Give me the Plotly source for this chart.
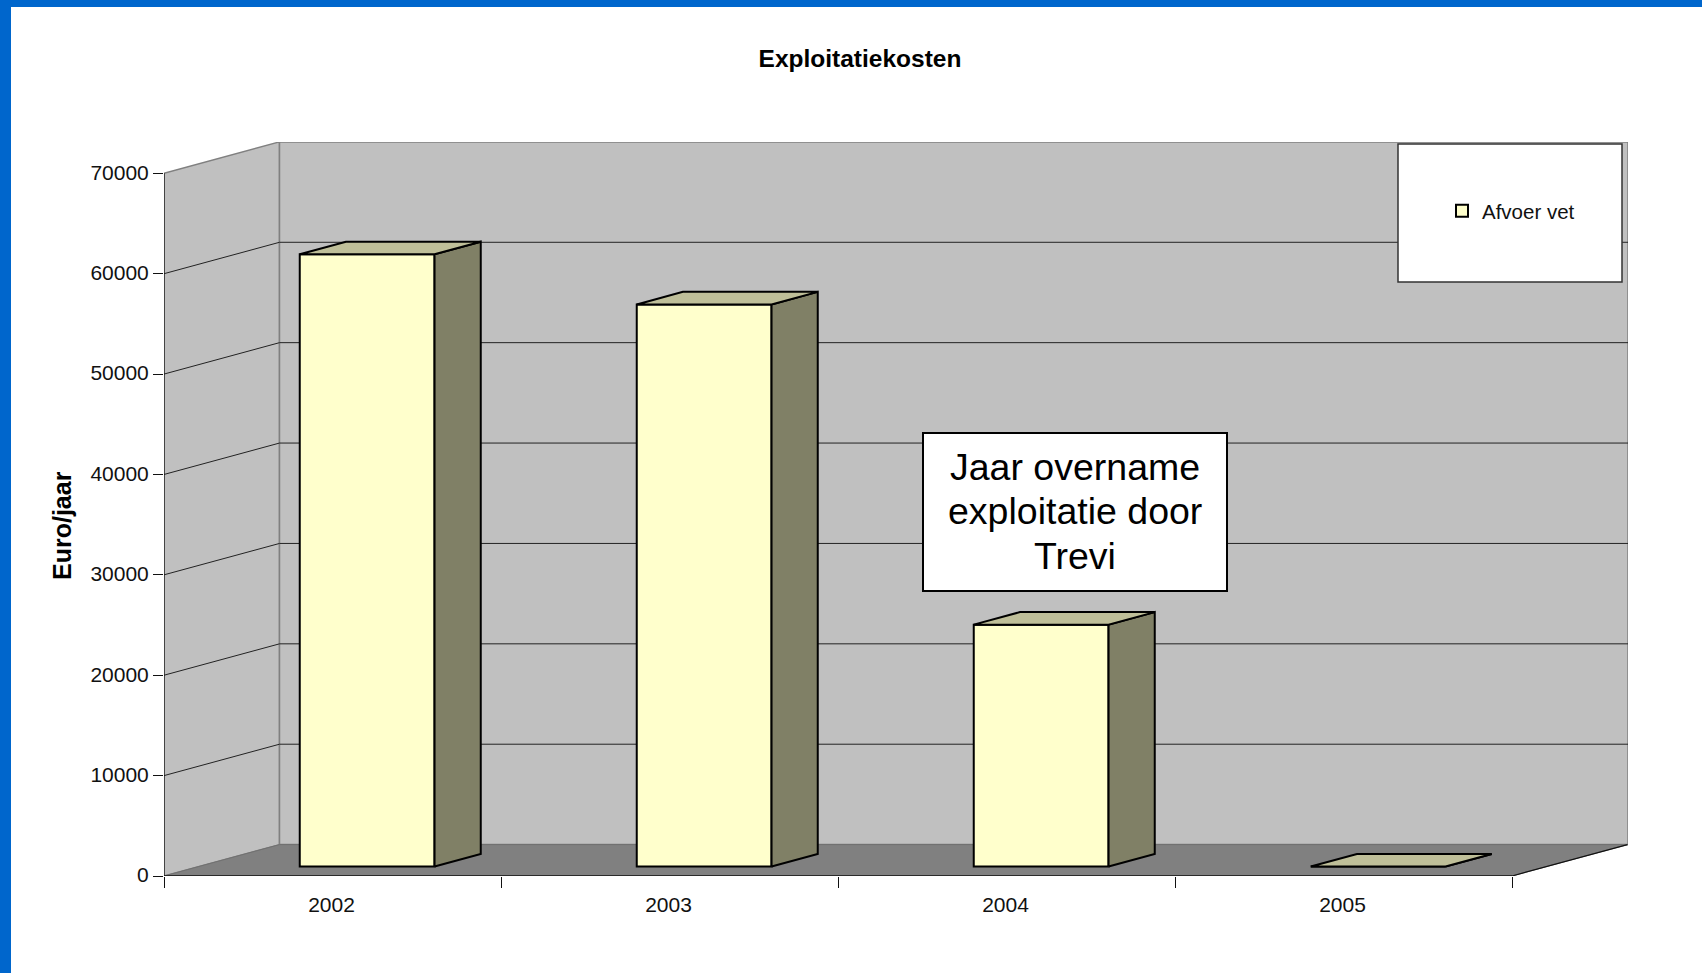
import plotly.graph_objects as go

# data
jaren = ["2002", "2003", "2004", "2005"]
kosten = [61000, 56000, 24100, 0]
y_ticks = [0, 10000, 20000, 30000, 40000, 50000, 60000, 70000]
note_lines = ["Jaar overname", "exploitatie door", "Trevi"]

W, H = 1702, 973
# plot area in pixels (front left corner of the floor up to back right corner)
L, R, T, B = 164, 1628, 142, 876
CAT_W = 337.0          # pixels per category
PER_PX = 70000 / 702.7  # euro per pixel
DX = 115.5 / CAT_W     # depth of the 3d box in x units
DY = 31.4 * PER_PX     # depth of the 3d box in y units
D0, D1 = 0.3, 0.7      # bar position in the depth
BAR = 0.4
YMAX = 70000
n = len(jaren)


def px(x):
    return (x - L) / (R - L)


def py(y):
    return (B - y) / (B - T)


def poly(pts):
    return "M" + " L".join(f"{x},{y}" for x, y in pts) + " Z"


shapes = []


def data_shape(pts, fill=None, color="#808080", width=1.5, layer="below"):
    s = dict(type="path", path=poly(pts), xref="x", yref="y", layer=layer,
             line=dict(color=color, width=width))
    if fill:
        s["fillcolor"] = fill
    shapes.append(s)


def data_line(p0, p1, color="#222222", width=1, layer="below"):
    shapes.append(dict(type="line", xref="x", yref="y", layer=layer,
                       x0=p0[0], y0=p0[1], x1=p1[0], y1=p1[1],
                       line=dict(color=color, width=width)))


xmax = (R - L) / CAT_W
ymax = (B - T) * PER_PX

# walls and floor
data_shape([(0, 0), (DX, DY), (DX, YMAX + DY), (0, YMAX)], fill="#C0C0C0")
data_shape([(DX, DY), (xmax, DY), (xmax, YMAX + DY), (DX, YMAX + DY)], fill="#C0C0C0")
data_shape([(0, 0), (n, 0), (n + DX, DY), (DX, DY)], fill="#808080", color="#707070", width=1)

# gridlines
for v in y_ticks[1:-1]:
    data_line((0, v), (DX, v + DY))
    data_line((DX, v + DY), (xmax, v + DY))

# axis lines
data_line((0, 0), (0, YMAX), color="#111111", width=1.2)
data_line((0, 0), (n, 0), color="#111111", width=1.5, layer="above")
data_line((n, 0), (n + DX, DY), color="#111111", width=1.2, layer="above")

fig = go.Figure()

# front of the bars
centers = [i + 0.5 + D0 * DX for i in range(n)]
fig.add_trace(go.Bar(
    x=centers, y=kosten, base=D0 * DY, width=BAR, name="Afvoer vet",
    marker=dict(color="#FFFFCC", line=dict(color="black", width=2)),
))

# top and side of the bars
for i, v in enumerate(kosten):
    xl = i + 0.5 - BAR / 2
    xr = i + 0.5 + BAR / 2
    top_x = [xl + D0 * DX, xr + D0 * DX, xr + D1 * DX, xl + D1 * DX, xl + D0 * DX]
    top_y = [v + D0 * DY, v + D0 * DY, v + D1 * DY, v + D1 * DY, v + D0 * DY]
    side_x = [xr + D0 * DX, xr + D1 * DX, xr + D1 * DX, xr + D0 * DX, xr + D0 * DX]
    side_y = [D0 * DY, D1 * DY, v + D1 * DY, v + D0 * DY, D0 * DY]
    for xs, ys, c in [(side_x, side_y, "#808066"), (top_x, top_y, "#BFBF99")]:
        fig.add_trace(go.Scatter(
            x=xs, y=ys, mode="lines", fill="toself", fillcolor=c,
            line=dict(color="black", width=2), showlegend=False, hoverinfo="skip",
        ))

# legend box
shapes.append(dict(type="rect", xref="paper", yref="paper", layer="above",
                   x0=px(1398), x1=px(1622), y0=py(282), y1=py(144),
                   fillcolor="white", line=dict(color="#333333", width=1.5)))
# note box
shapes.append(dict(type="rect", xref="paper", yref="paper", layer="above",
                   x0=px(923), x1=px(1227), y0=py(591), y1=py(433),
                   fillcolor="white", line=dict(color="black", width=2)))
# blue frame
shapes.append(dict(type="rect", xref="paper", yref="paper", layer="above",
                   x0=px(0), x1=px(W), y0=py(7), y1=py(0),
                   fillcolor="#0066CC", line=dict(width=0)))
shapes.append(dict(type="rect", xref="paper", yref="paper", layer="above",
                   x0=px(0), x1=px(11), y0=py(H), y1=py(0),
                   fillcolor="#0066CC", line=dict(width=0)))

annotations = []
for line, yy in zip(note_lines, [467, 511, 556]):
    annotations.append(dict(text=line, xref="paper", yref="paper", x=px(1074.5), y=py(yy),
                            xanchor="center", yanchor="middle", showarrow=False,
                            font=dict(size=37.5, color="black")))
# y axis title, placed by hand because it is not centred on the plot area
annotations.append(dict(text="<b>Euro/jaar</b>", xref="paper", yref="paper", x=px(62), y=py(526),
                        xanchor="center", yanchor="middle", showarrow=False, textangle=-90,
                        font=dict(size=25, color="black")))

fig.update_layout(
    width=W, height=H,
    margin=dict(l=L, r=W - R, t=T, b=H - B, pad=0),
    paper_bgcolor="white", plot_bgcolor="white",
    font=dict(family="Liberation Sans, Arial, sans-serif", color="#111111", size=21),
    title=dict(text="<b>Exploitatiekosten</b>", x=860 / W, xanchor="center",
               y=1 - 58 / H, yanchor="middle", font=dict(size=24.5, color="black")),
    shapes=shapes, annotations=annotations,
    showlegend=True,
    legend=dict(x=px(1442), y=py(211), xanchor="left", yanchor="middle",
                bgcolor="rgba(0,0,0,0)", borderwidth=0, font=dict(size=20.5)),
    xaxis=dict(range=[0, xmax], tickmode="array", tickvals=[i + 0.5 for i in range(n)],
               ticktext=jaren, ticks="", showgrid=False, zeroline=False, showline=False,
               ticklabelstandoff=14, ticklabelshift=-1,
               minor=dict(tickmode="array", tickvals=list(range(n + 1)), ticks="outside",
                          ticklen=11, tickwidth=1, tickcolor="#111111", showgrid=False)),
    yaxis=dict(range=[0, ymax], tickmode="array", tickvals=y_ticks,
               ticktext=[str(v) for v in y_ticks], ticks="outside", ticklabelshift=-1,
               ticklen=10, tickwidth=1, tickcolor="#111111", showgrid=False, zeroline=False,
               showline=False),
)

fig.write_html("out.html", config={"displayModeBar": False},
               post_script="document.body.style.margin='0';")
